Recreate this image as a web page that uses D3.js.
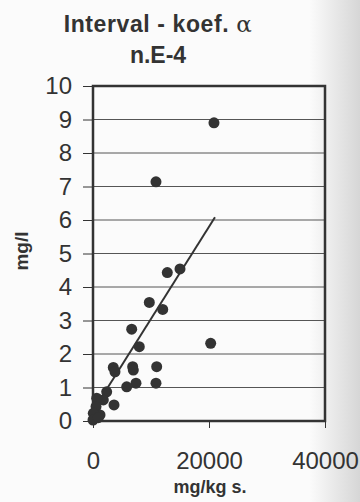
<!DOCTYPE html>
<html>
<head>
<meta charset="utf-8">
<script src="https://cdn.jsdelivr.net/npm/d3@7"></script>
<style>
  body { margin: 0; background: #fff; }
  svg { display: block; }
</style>
</head>
<body>
<svg id="chart" width="360" height="502"></svg>
<script>
// values
const xs = [12810, 15000, 9710, 12020, 6670, 7980, 20290, 3500, 3790, 6840, 6950,
            10980, 10860, 7410, 5810, 3620, 2360, 1780, 640, 520, 1210, 50, 0, 900,
            20860, 10860];
const ys = [4.43, 4.54, 3.54, 3.33, 2.74, 2.22, 2.32, 1.6, 1.47, 1.62, 1.52,
            1.62, 1.13, 1.13, 1.02, 0.48, 0.87, 0.63, 0.68, 0.43, 0.18, 0.23, 0.03, 0.1,
            8.9, 7.14];
const trendX = [0, 21030];
const trendY = [0.3, 6.08];
const yTicks = [0, 1, 2, 3, 4, 5, 6, 7, 8, 9, 10];
const xTicks = [0, 20000, 40000];

const svg = d3.select("#chart");
const width = 360, height = 502;

// scanned paper goes grey at the right edge
const defs = svg.append("defs");
const grad = defs.append("linearGradient").attr("id", "paper");
grad.append("stop").attr("offset", "0.86").attr("stop-color", "#fbfbfb");
grad.append("stop").attr("offset", "1").attr("stop-color", "#d6d6d6");
svg.append("rect").attr("width", width).attr("height", height).attr("fill", "url(#paper)");

const plotLeft = 93, plotRight = 325, plotTop = 86, plotBottom = 421;

const x = d3.scaleLinear().domain([0, 40000]).range([plotLeft, plotRight]);
const y = d3.scaleLinear().domain([0, 10]).range([plotBottom, plotTop]);

const ink = "#333";
const font = "Liberation Sans, Arial, sans-serif";

// title
svg.append("text")
    .attr("x", 158).attr("y", 32)
    .attr("text-anchor", "middle")
    .attr("font-family", font)
    .attr("font-size", 23).attr("font-weight", "bold")
    .attr("letter-spacing", 0.6)
    .attr("fill", ink)
    .text("Interval - koef. ")
    .append("tspan").attr("font-weight", "normal").attr("font-family", "DejaVu Serif, serif").text("α");

svg.append("text")
    .attr("x", 158).attr("y", 63)
    .attr("text-anchor", "middle")
    .attr("font-family", font)
    .attr("font-size", 23).attr("font-weight", "bold")
    .attr("fill", ink)
    .text("n.E-4");

// grid lines
svg.append("g")
    .selectAll("line")
    .data(yTicks.slice(1, -1))
    .join("line")
    .attr("x1", plotLeft).attr("x2", plotRight)
    .attr("y1", d => y(d)).attr("y2", d => y(d))
    .attr("stroke", "#555").attr("stroke-width", 1);

// y axis
const yAxis = svg.append("g")
    .attr("transform", `translate(${plotLeft},0)`)
    .call(d3.axisLeft(y).tickValues(yTicks).tickSize(10).tickPadding(11).tickFormat(d3.format("d")));
yAxis.select(".domain").remove();
yAxis.selectAll("line").attr("stroke", ink);
yAxis.selectAll("text")
    .attr("font-family", font)
    .attr("font-size", 24).attr("fill", ink);

// x axis
const xAxis = svg.append("g")
    .attr("transform", `translate(0,${plotBottom})`)
    .call(d3.axisBottom(x).tickValues(xTicks).tickSize(7).tickPadding(24).tickFormat(d3.format("d")));
xAxis.select(".domain").remove();
xAxis.selectAll("line").attr("stroke", ink);
xAxis.selectAll("text")
    .attr("font-family", font)
    .attr("font-size", 24).attr("fill", ink);

// plot frame
svg.append("rect")
    .attr("x", plotLeft).attr("y", plotTop)
    .attr("width", plotRight - plotLeft).attr("height", plotBottom - plotTop)
    .attr("fill", "none").attr("stroke", ink).attr("stroke-width", 2.5);

// axis titles
svg.append("text")
    .attr("transform", `translate(28,251) rotate(-90)`)
    .attr("text-anchor", "middle")
    .attr("font-family", font)
    .attr("font-size", 19).attr("font-weight", "bold")
    .attr("fill", ink)
    .text("mg/l");

svg.append("text")
    .attr("x", 210).attr("y", 493)
    .attr("text-anchor", "middle")
    .attr("font-family", font)
    .attr("font-size", 18).attr("font-weight", "bold")
    .attr("fill", ink)
    .text("mg/kg s.");

// trend line
svg.append("line")
    .attr("x1", x(trendX[0])).attr("y1", y(trendY[0]))
    .attr("x2", x(trendX[1])).attr("y2", y(trendY[1]))
    .attr("stroke", ink).attr("stroke-width", 2);

// points
svg.append("g")
    .selectAll("circle")
    .data(xs.map((v, i) => [v, ys[i]]))
    .join("circle")
    .attr("cx", d => x(d[0]))
    .attr("cy", d => y(d[1]))
    .attr("r", 5.5)
    .attr("fill", ink);
</script>
</body>
</html>
